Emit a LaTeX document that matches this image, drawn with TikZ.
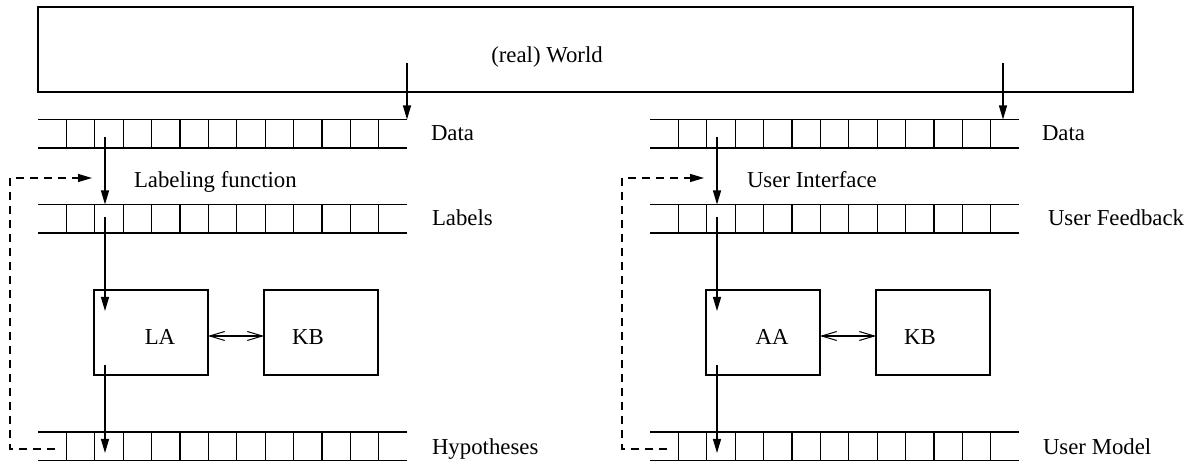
\documentclass[tikz,border=0pt]{standalone}
\usepackage{fontspec}
\setmainfont{Liberation Serif}
\usetikzlibrary{arrows.meta}
\begin{document}
\begin{tikzpicture}[x=1pt,y=-1pt,line width=1.2pt,
  every node/.style={inner sep=0pt,outer sep=0pt,font=\fontsize{22.8}{26}\selectfont},
  tapeline/.style={line width=1.2pt},
  flow/.style={-{Triangle[length=14pt,width=8pt]}},
  mutual/.style={{Straight Barb[length=15pt,width=9pt,line width=1pt]}-{Straight Barb[length=15pt,width=9pt,line width=1pt]}},
  feedback/.style={dashed,dash pattern=on 8pt off 6pt,-{Triangle[length=14pt,width=8pt]}},
  agentbox/.style={draw,minimum width=114pt,minimum height=85pt},
  tapelabel/.style={anchor=base west}]
\useasboundingbox (0,0) rectangle (1187,462);

% the world
\node[draw,minimum width=1095pt,minimum height=85pt] (world) at (585.5,49.5) {};
\node[anchor=base] (worldtext) at (547,63) {(real) World};

% a tape: top edge y, left end x
\newcommand{\drawtape}[2]{%
  \draw[tapeline] (#2,#1) -- ++(369,0);
  \draw[tapeline] (#2,#1+28.5) -- ++(369,0);
  \foreach \k in {1,...,12} \draw[tapeline] (#2+28.4*\k,#1) -- ++(0,28.5);
}

\foreach \dx in {0,612} {
  \begin{scope}[xshift=\dx pt]
    \drawtape{119.5}{38}
    \drawtape{204.5}{38}
    \drawtape{432}{38}
  \end{scope}
}

% left side
\node[agentbox] (la) at (151,332.5) {};
\node[agentbox] (kbl) at (321,332.5) {};
\node (latext) at (160,337) {LA};
\node (kbltext) at (308,337) {KB};

\coordinate (ld1) at (105,137);
\coordinate (ll0) at (105,204.5);
\coordinate (ll1) at (105,217);
\coordinate (la0) at (105,311);
\coordinate (la1) at (105,365);
\coordinate (lh0) at (105,453);
\coordinate (lw0) at (407,63);
\coordinate (lw1) at (407,119.5);
\coordinate (lf0) at (55,449);
\coordinate (lf1) at (92,178);

\draw[flow] (lw0) -- (lw1);
\draw[flow] (ld1) -- (ll0);
\draw[flow] (ll1) -- (la0);
\draw[flow] (la1) -- (lh0);
\draw[mutual] (la.east |- 0,336) -- (kbl.west |- 0,336);
\draw[feedback] (lf0) -- (10,449) -- (10,178) -- (lf1);

\node[tapelabel] (ldata) at (431,141) {Data};
\node[tapelabel] (lfun) at (134,188) {Labeling function};
\node[tapelabel] (llab) at (432,226) {Labels};
\node[tapelabel] (lhyp) at (432,454) {Hypotheses};

% right side
\node[agentbox] (aa) at (763,332.5) {};
\node[agentbox] (kbr) at (933,332.5) {};
\node (aatext) at (772,337) {AA};
\node (kbrtext) at (920,337) {KB};

\coordinate (rd1) at (717,137);
\coordinate (rl0) at (717,204.5);
\coordinate (rl1) at (717,217);
\coordinate (ra0) at (717,311);
\coordinate (ra1) at (717,365);
\coordinate (rh0) at (717,453);
\coordinate (rw0) at (1003,63);
\coordinate (rw1) at (1003,119.5);
\coordinate (rf0) at (667,449);
\coordinate (rf1) at (704,178);

\draw[flow] (rw0) -- (rw1);
\draw[flow] (rd1) -- (rl0);
\draw[flow] (rl1) -- (ra0);
\draw[flow] (ra1) -- (rh0);
\draw[mutual] (aa.east |- 0,336) -- (kbr.west |- 0,336);
\draw[feedback] (rf0) -- (622,449) -- (622,178) -- (rf1);

\node[tapelabel] (rdata) at (1042,141) {Data};
\node[tapelabel] (rui) at (747,188) {User Interface};
\node[tapelabel] (rfb) at (1048,226) {User Feedback};
\node[tapelabel] (rmod) at (1043,454) {User Model};
\end{tikzpicture}
\end{document}
